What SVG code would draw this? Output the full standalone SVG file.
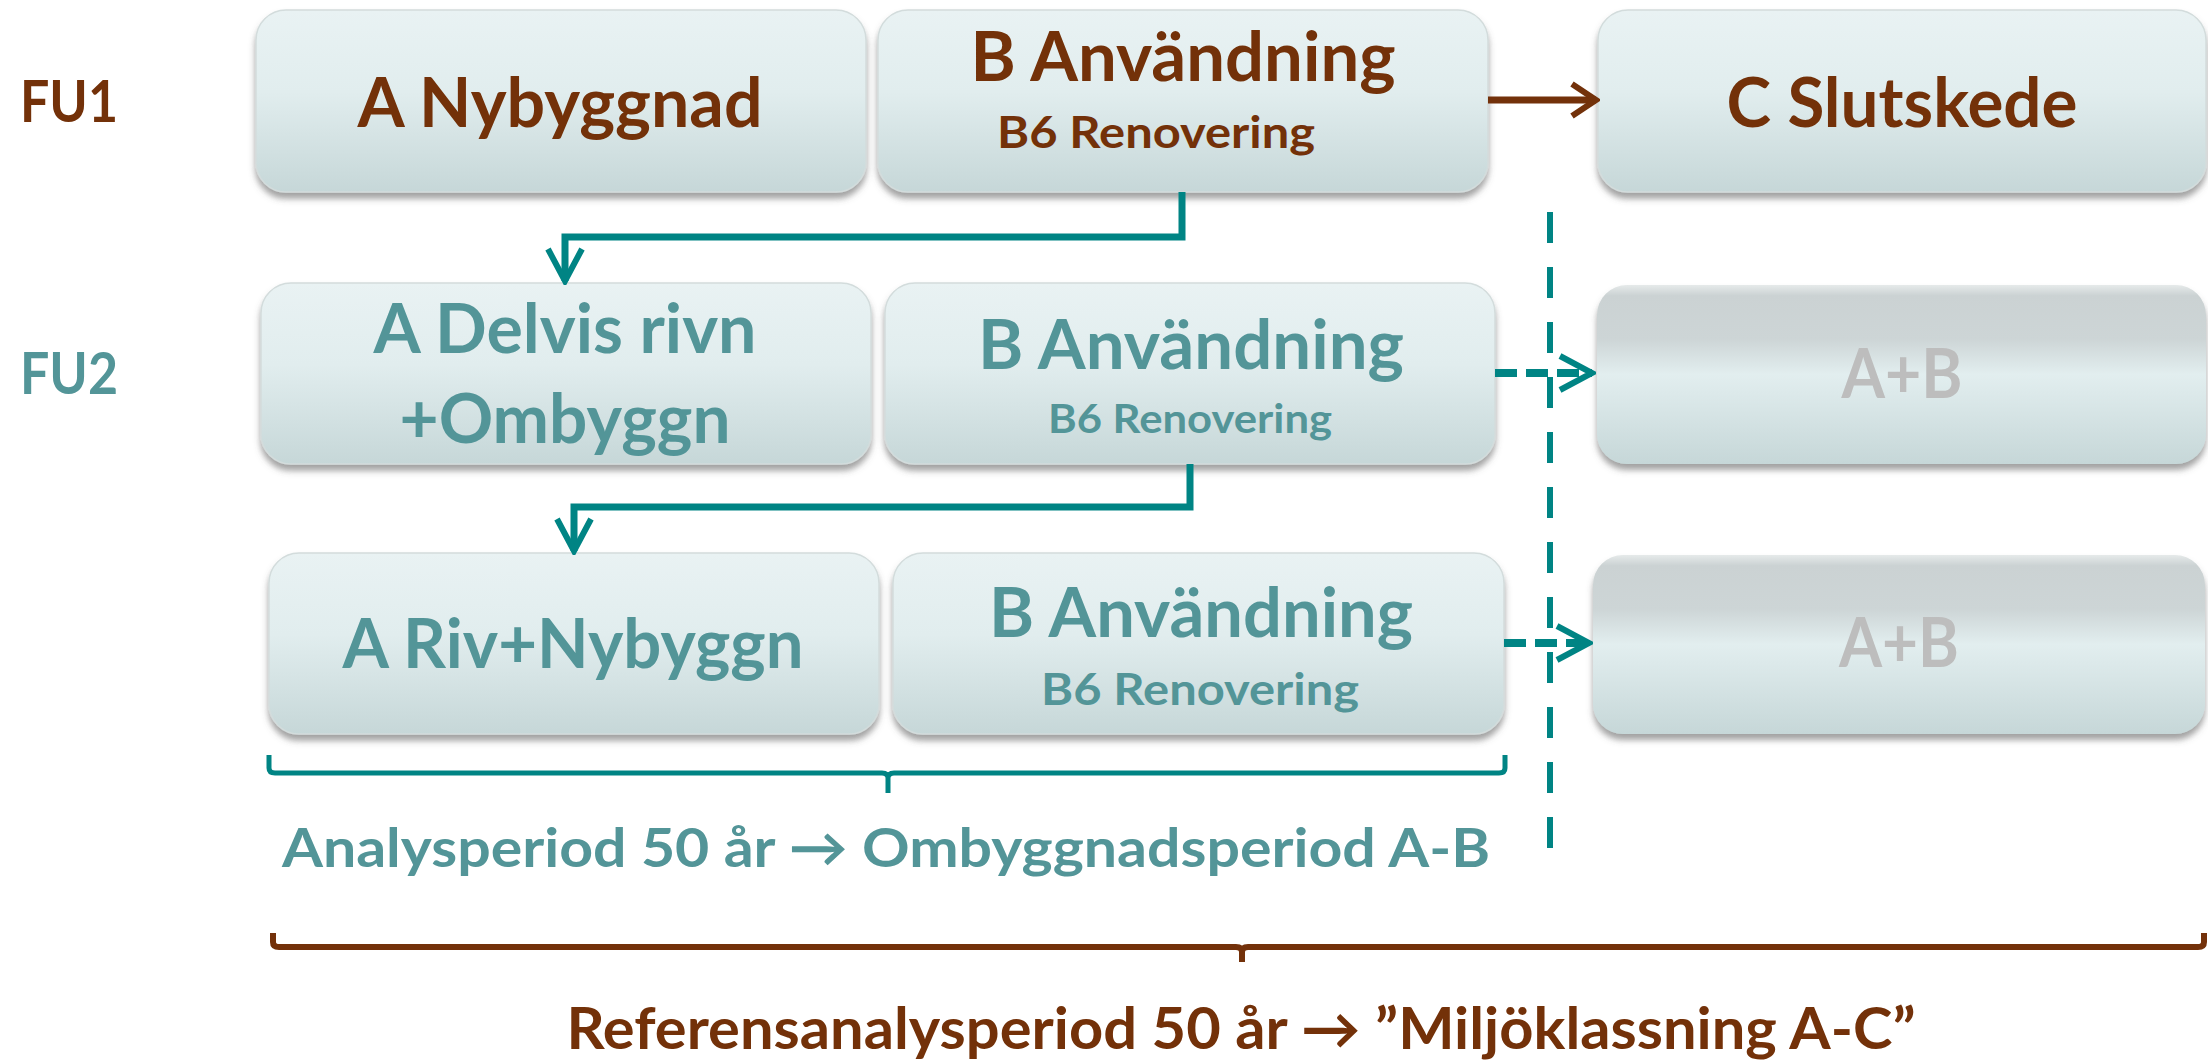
<svg xmlns="http://www.w3.org/2000/svg" width="2208" height="1061" viewBox="0 0 2208 1061">
<defs>
<linearGradient id="gBox" x1="0" y1="0" x2="0" y2="1">
<stop offset="0" stop-color="#e9f2f3"/>
<stop offset="0.45" stop-color="#e1edee"/>
<stop offset="1" stop-color="#c6d7d8"/>
</linearGradient>
<linearGradient id="gGrey" x1="0" y1="0" x2="0" y2="1">
<stop offset="0" stop-color="#e6eaea"/>
<stop offset="0.06" stop-color="#cbd2d3"/>
<stop offset="0.3" stop-color="#cdd5d6"/>
<stop offset="0.5" stop-color="#e2eeef"/>
<stop offset="1" stop-color="#c6d7d8"/>
</linearGradient>
<filter id="sh" x="-5%" y="-10%" width="110%" height="125%">
<feDropShadow dx="0" dy="6" stdDeviation="3" flood-color="#555" flood-opacity="0.55"/>
</filter>
<marker id="mTeal" viewBox="0 0 40 40" refX="36" refY="20" markerWidth="40" markerHeight="40" markerUnits="userSpaceOnUse" orient="auto">
<path d="M4,3 L36,20 L4,37" fill="none" stroke="#008484" stroke-width="6" stroke-linejoin="miter"/>
</marker>
<marker id="mBrown" viewBox="0 0 40 40" refX="36" refY="20" markerWidth="40" markerHeight="40" markerUnits="userSpaceOnUse" orient="auto">
<path d="M12,4 L36,20 L12,36" fill="none" stroke="#73310a" stroke-width="6"/>
</marker>
</defs>
<style>
.box{fill:url(#gBox);stroke:#d3dcdc;stroke-width:1.5;filter:url(#sh)}
.grey{fill:url(#gGrey);filter:url(#sh)}
text{font-family:Lato,"Open Sans","Liberation Sans",sans-serif;font-weight:bold;text-anchor:middle}
.br{fill:#733109}
.tl{fill:#539598}
.gr{fill:#bdbdbd}
.big{font-size:68px}
.sub{font-size:43px}
.lbl{font-size:58px}
.conT{fill:none;stroke:#008484;stroke-width:7}
</style>
<rect width="2208" height="1061" fill="#ffffff"/>

<g id="labels">
<text class="lbl br" x="69" y="122" textLength="98" lengthAdjust="spacingAndGlyphs">FU1</text>
<text class="lbl tl" x="69" y="394" textLength="98" lengthAdjust="spacingAndGlyphs">FU2</text>
</g>

<g id="n-a-nybyggnad">
<rect class="box" x="256" y="10" width="610" height="182" rx="30"/>
<text class="big br" x="560" y="127" textLength="405" lengthAdjust="spacingAndGlyphs">A Nybyggnad</text>
</g>
<g id="n-b1">
<rect class="box" x="878" y="10" width="610" height="182" rx="30"/>
<text class="big br" x="1183" y="81" textLength="425" lengthAdjust="spacingAndGlyphs">B Användning</text>
<text class="sub br" x="1156" y="148" textLength="318" lengthAdjust="spacingAndGlyphs">B6 Renovering</text>
</g>
<g id="n-c">
<rect class="box" x="1598" y="10" width="608" height="182" rx="30"/>
<text class="big br" x="1902" y="127" textLength="351" lengthAdjust="spacingAndGlyphs">C Slutskede</text>
</g>

<g id="n-a-delvis">
<rect class="box" x="261" y="283" width="610" height="181" rx="30"/>
<text class="big tl" x="565" y="353" textLength="383" lengthAdjust="spacingAndGlyphs">A Delvis rivn</text>
<text class="big tl" x="565" y="443" textLength="331" lengthAdjust="spacingAndGlyphs">+Ombyggn</text>
</g>
<g id="n-b2">
<rect class="box" x="885" y="283" width="610" height="181" rx="30"/>
<text class="big tl" x="1191" y="369" textLength="426" lengthAdjust="spacingAndGlyphs">B Användning</text>
<text class="sub tl" x="1190" y="433" textLength="284" lengthAdjust="spacingAndGlyphs" style="font-size:41px">B6 Renovering</text>
</g>
<g id="n-ab2">
<rect class="grey" x="1597" y="285" width="609" height="179" rx="30"/>
<text class="big gr" x="1902" y="398" textLength="121" lengthAdjust="spacingAndGlyphs">A+B</text>
</g>

<g id="n-a-riv">
<rect class="box" x="269" y="553" width="610" height="181" rx="30"/>
<text class="big tl" x="573" y="668" textLength="461" lengthAdjust="spacingAndGlyphs">A Riv+Nybyggn</text>
</g>
<g id="n-b3">
<rect class="box" x="893" y="553" width="611" height="181" rx="30"/>
<text class="big tl" x="1201" y="637" textLength="424" lengthAdjust="spacingAndGlyphs">B Användning</text>
<text class="sub tl" x="1200" y="705" textLength="318" lengthAdjust="spacingAndGlyphs">B6 Renovering</text>
</g>
<g id="n-ab3">
<rect class="grey" x="1593" y="555" width="612" height="179" rx="30"/>
<text class="big gr" x="1899" y="667" textLength="120" lengthAdjust="spacingAndGlyphs">A+B</text>
</g>

<g id="connectors">
<line x1="1488" y1="100" x2="1596" y2="100" stroke="#73310a" stroke-width="7" marker-end="url(#mBrown)"/>
<path class="conT" d="M1182,192 V237 H565 V281" marker-end="url(#mTeal)"/>
<path class="conT" d="M1190,464 V507 H574 V551" marker-end="url(#mTeal)"/>
<line x1="1495" y1="373" x2="1592" y2="373" stroke="#008484" stroke-width="8" stroke-dasharray="22 9" marker-end="url(#mTeal)"/>
<line x1="1504" y1="643" x2="1589" y2="643" stroke="#008484" stroke-width="8" stroke-dasharray="22 9" marker-end="url(#mTeal)"/>
<line x1="1550" y1="212" x2="1550" y2="856" stroke="#008484" stroke-width="6" stroke-dasharray="31 24"/>
</g>

<g id="brace-teal">
<path d="M269,755 V768 Q269,773 275,773 H882 Q888,773 888,778 V793 M888,778 Q888,773 894,773 H1499 Q1505,773 1505,768 V755" fill="none" stroke="#008484" stroke-width="5"/>
<text x="886" y="867" class="tl" style="font-size:54px" textLength="1208" lengthAdjust="spacingAndGlyphs">Analysperiod 50 år → Ombyggnadsperiod A-B</text>
</g>
<g id="brace-brown">
<path d="M273,933 V942 Q273,947 279,947 H1236 Q1242,947 1242,952 V962 M1242,952 Q1242,947 1248,947 H2198 Q2204,947 2204,942 V933" fill="none" stroke="#73310a" stroke-width="6"/>
<text x="1241" y="1049" class="br" style="font-size:57px" textLength="1349" lengthAdjust="spacingAndGlyphs">Referensanalysperiod 50 år → ”Miljöklassning A-C”</text>
</g>
</svg>
